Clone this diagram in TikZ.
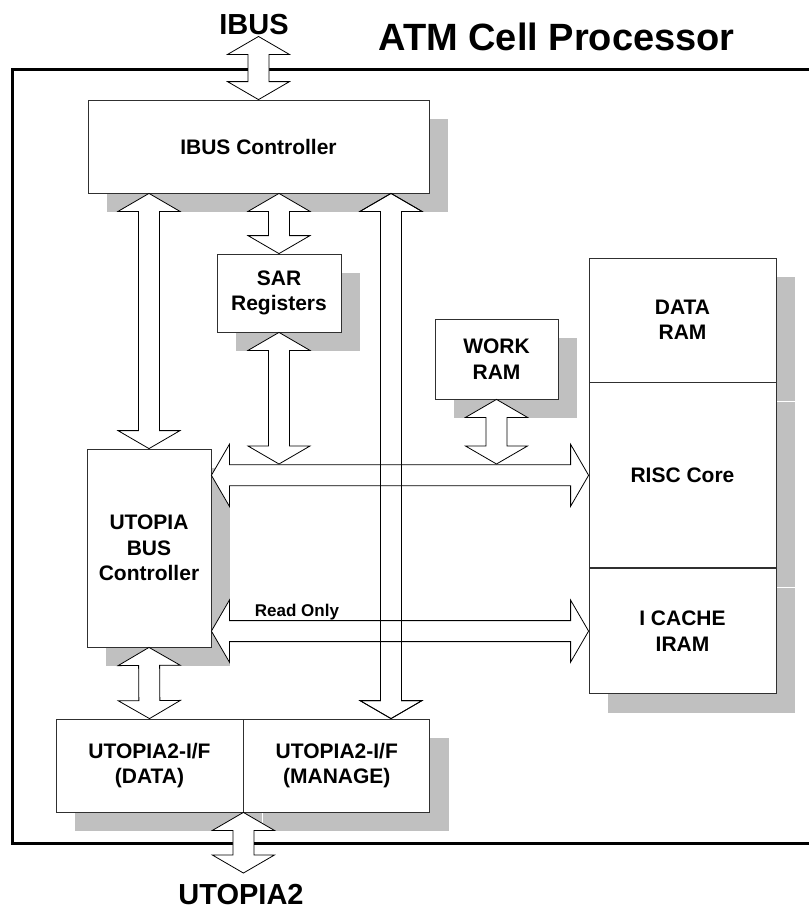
\documentclass[tikz,border=0pt]{standalone}
\usepackage{fontspec}
\setmainfont{Liberation Sans}
\usetikzlibrary{calc,positioning,shadows}
\definecolor{shadowgray}{HTML}{C0C0C0}
\definecolor{edge}{HTML}{303030}
\newcommand\boxfont{\fontsize{21}{25.5}\selectfont\bfseries}
\tikzset{
  blk/.style={draw=edge, line width=0.8pt, fill=white, inner sep=0pt, align=center, font=\boxfont},
  shd/.style={drop shadow={shadow xshift=19pt, shadow yshift=-19pt, fill=shadowgray, opacity=1}},
  bus/.style={draw=black, line width=0.8pt, fill=white, line join=miter},
  busline/.style={draw=black, line width=0.8pt, line join=miter},
  lbl/.style={font=\fontsize{29}{30}\selectfont\bfseries, inner sep=1pt},
  outer/.style={draw=black, line width=3pt}
}
% double headed block arrow from #2 to #3
\newcommand\busarrow[3][bus]{%
  \path[#1] (#2)
    -- ($(#2)!18pt!(#3)!31pt!90:(#3)$)
    -- ($(#2)!18pt!(#3)!10.5pt!90:(#3)$)
    -- ($(#3)!18pt!(#2)!10.5pt!-90:(#2)$)
    -- ($(#3)!18pt!(#2)!31pt!-90:(#2)$)
    -- (#3)
    -- ($(#3)!18pt!(#2)!31pt!90:(#2)$)
    -- ($(#3)!18pt!(#2)!10.5pt!90:(#2)$)
    -- ($(#2)!18pt!(#3)!10.5pt!-90:(#3)$)
    -- ($(#2)!18pt!(#3)!31pt!-90:(#3)$)
    -- cycle;}

\begin{document}
\begin{tikzpicture}[x=1pt,y=-1pt]
  \useasboundingbox (0,0) rectangle (809,911);
  \clip (0,0) rectangle (809,911);

  % chip outline (right side runs off the page)
  \draw[outer] (12,69) rectangle (840,843);

  % blocks
  \node[blk, shd, minimum width=341pt, minimum height=93pt] (ibusctl) at (258.5,146.5) {IBUS Controller};
  \node[blk, shd, minimum width=124pt, minimum height=78pt] (sar) at (279,293) {SAR\\Registers};
  \node[blk, shd, minimum width=123pt, minimum height=80pt] (work) at (496.5,359) {WORK\\RAM};
  \node[blk, shd, minimum width=187pt, minimum height=124pt] (dataram) at (682.5,320) {DATA\\RAM};
  \node[blk, shd, minimum width=187pt, minimum height=185pt, below=0pt of dataram] (risc) {RISC Core};
  \node[blk, shd, minimum width=187pt, minimum height=125pt, below=0pt of risc] (icache) {I CACHE\\IRAM};
  \node[blk, shd, minimum width=124pt, minimum height=198pt] (utbus) at (149,548) {UTOPIA\\BUS\\Controller};
  \node[blk, shd, minimum width=187pt, minimum height=93pt] (utdata) at (149.5,765.5) {UTOPIA2-I/F\\(DATA)};
  \node[blk, shd, minimum width=186pt, minimum height=93pt, right=0pt of utdata] (utmng) {UTOPIA2-I/F\\(MANAGE)};

  % outside labels
  \node[lbl] (ibuslbl) at (254,25) {IBUS};
  \node[lbl, font=\fontsize{38}{40}\selectfont\bfseries] (atmlbl) at (556.5,37) {ATM Cell Processor};
  \node[lbl, inner ysep=11pt] (ut2lbl) at (241,894.5) {UTOPIA2};

  \coordinate (bustop) at (0,464);
  \coordinate (mngx) at (391,0);

  % buses
  \busarrow{ibusctl.north}{ibusctl.north |- ibuslbl.south}
  \busarrow{ibusctl.south -| utbus.north}{utbus.north}
  \busarrow{ibusctl.south -| sar.north}{sar.north}
  \busarrow{sar.south}{sar.south |- bustop}
  \busarrow{work.south}{work.south |- bustop}
  \busarrow{ibusctl.south -| mngx}{utmng.north -| mngx}
  \busarrow{utbus.east |- risc.west}{risc.west}
  \busarrow{utbus.east |- icache.west}{icache.west}
  \busarrow{utbus.south}{utdata.north}
  \busarrow{utdata.south east}{utdata.south east |- ut2lbl.north}
  % outline again so it shows through the horizontal buses
  \busarrow[busline]{ibusctl.south -| mngx}{utmng.north -| mngx}

  \node[font=\fontsize{17}{18}\selectfont\bfseries, inner sep=0pt] (rdonly) at (297,612) {Read Only};
\end{tikzpicture}
\end{document}
